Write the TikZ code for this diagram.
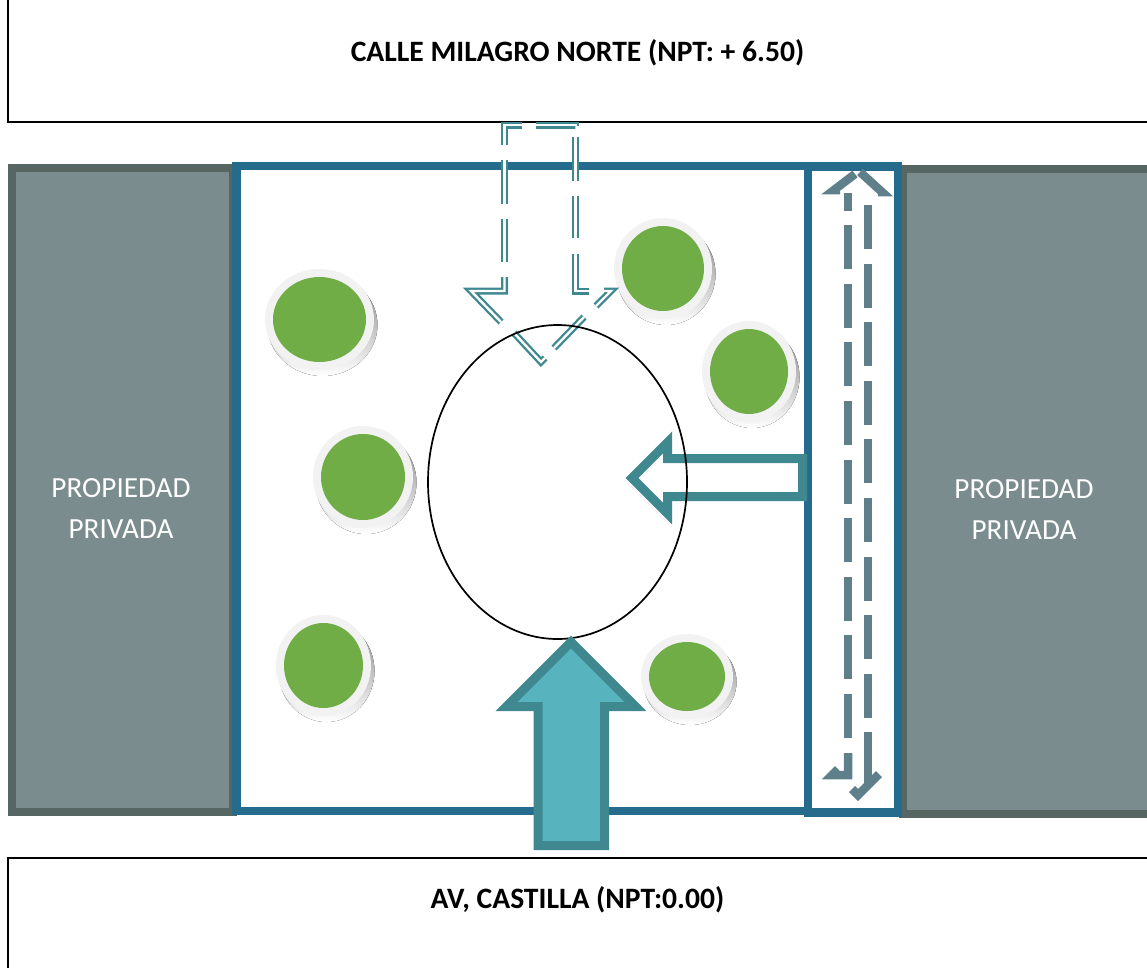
\documentclass[tikz,border=0pt]{standalone}
\usepackage{fontspec}
\setmainfont{Carlito}
\definecolor{wallblue}{HTML}{256C8C}
\definecolor{greyedge}{HTML}{566663}
\definecolor{greyfill}{HTML}{7B8C8E}
\definecolor{teal}{HTML}{3F8890}
\definecolor{aqua}{HTML}{57B3BE}
\definecolor{slate}{HTML}{5F808A}
\definecolor{leaf}{HTML}{70AD47}
\definecolor{halo}{HTML}{F2F2F2}
\definecolor{shade}{HTML}{98A688}
\tikzset{
  x=1pt,y=-1pt,
  streetbox/.style={draw=black,line width=1.8pt,fill=white},
  greybox/.style={draw=greyedge,line width=8pt,fill=greyfill},
  wall/.style={draw=wallblue,line width=8.5pt},
  bigarrow/.style={draw=teal,line width=9pt,miter limit=10,line join=miter},
  dashpiece/.style={draw=teal,line width=2.3pt,double=white,double distance=2.4pt,line join=miter},
  dashrun/.style={dashpiece,dash pattern=on 43.5pt off 15pt},
  laneline/.style={draw=slate,line width=8.5pt,line join=miter,miter limit=10},
  lanedash/.style={laneline,dash pattern=on 44pt off 14.6pt},
  streetlabel/.style={font=\fontsize{29.6}{34}\selectfont\bfseries,text=black,inner sep=0pt},
  privlabel/.style={font=\fontsize{29.2}{41}\selectfont,text=white,align=center,inner sep=0pt},
}
\begin{document}
\begin{tikzpicture}
\useasboundingbox (0,0) rectangle (1147,967);
\clip (0,0) rectangle (1147,967);
\fill[white] (0,0) rectangle (1147,967);
% streets
\draw[streetbox] (8,-5) rectangle (1155,122);
\draw[streetbox] (8,858) rectangle (1155,975);
\node[streetlabel] (north) at (577.5,53) {CALLE MILAGRO NORTE (NPT: + 6.50)};
\node[streetlabel] (south) at (577.5,900) {AV, CASTILLA (NPT:0.00)};
% neighbouring plots
\draw[greybox] (11.5,168) rectangle (233,812);
\draw[greybox] (903,169) rectangle (1155,814);
\node[privlabel] (privl) at (121,509) {PROPIEDAD\\PRIVADA};
\node[privlabel] (privr) at (1024,510) {PROPIEDAD\\PRIVADA};
% site
\draw[wall] (236.5,166) rectangle (808,811);
\draw[wall] (808,166.5) rectangle (898,812.5);
% trees: x1,y1,x2,y2 of the green part
\foreach \xa/\ya/\xb/\yb in {273/277/366/362,622/226/704/311,710/329/788/414,321/434/405/520,284/623/363/708,649/642/725/711}{
  \pgfmathsetmacro{\cx}{(\xa+\xb)/2}
  \pgfmathsetmacro{\cy}{(\ya+\yb)/2}
  \pgfmathsetmacro{\rx}{(\xb-\xa)/2}
  \pgfmathsetmacro{\ry}{(\yb-\ya)/2}
  \fill[shade] (\cx+3,\cy+5.5) ellipse [x radius=\rx+8.5,y radius=\ry+8.5];
  \fill[halo] (\cx,\cy) ellipse [x radius=\rx+8,y radius=\ry+8];
  \fill[leaf] (\cx,\cy) ellipse [x radius=\rx,y radius=\ry];
}
% pedestrian arrow from the north
\draw[dashpiece] (536,125) -- (575.5,125) -- (575.5,126);
\draw[dashrun] (575.5,137) -- (575.5,238);
\draw[dashpiece] (575.5,254) -- (575.5,291) -- (589,291);
\draw[dashpiece] (604,291) -- (611,291) -- (596,306);
\draw[dashpiece] (584,317) -- (554,348);
\draw[dashpiece] (545,358) -- (541,362) -- (514,333);
\draw[dashpiece] (501,322) -- (471,291) -- (504.5,291) -- (504.5,277);
\draw[dashrun] (504.5,262) -- (504.5,125) -- (522,125);
% east arrow
\draw[bigarrow] (802.5,458.5) -- (667.5,458.5) -- (667.5,442.5) -- (632,478) -- (667.5,513.5) -- (667.5,496.5) -- (802.5,496.5) -- cycle;
% central space
\draw[black,line width=1.7pt] (557.5,482) ellipse [x radius=129.5,y radius=157];
% south arrow
\draw[bigarrow,fill=aqua] (538,845.5) -- (538,706.5) -- (506.5,706.5) -- (571,642) -- (635.5,706.5) -- (604.5,706.5) -- (604.5,845.5) -- cycle;
% service lane
\draw[lanedash] (848,738) -- (848,193);
\draw[lanedash] (868,205) -- (868,733);
\draw[laneline] (840,190) -- (834,190) -- (855,174);
\draw[laneline] (860,172) -- (882,192) -- (878,192);
\draw[laneline] (848,753) -- (848,775) -- (832,775) -- (838,769);
\draw[laneline] (868,733) -- (868,783);
\draw[laneline] (879,774) -- (858,795) -- (852,789);
\end{tikzpicture}
\end{document}
